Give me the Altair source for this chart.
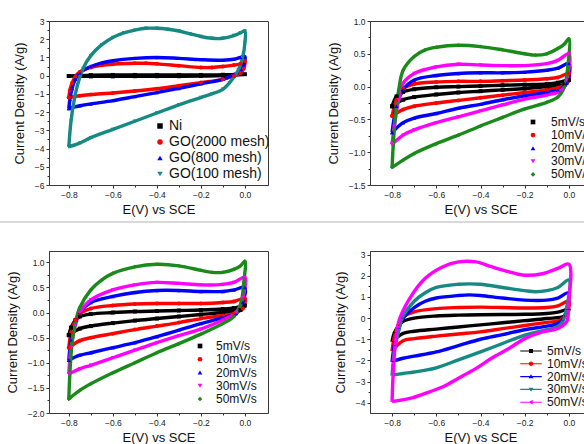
import altair as alt
import pandas as pd

FONT = "Liberation Sans"
X_TICKS = [-0.8, -0.6, -0.4, -0.2, 0.0]
X_MINOR = [-0.7, -0.5, -0.3, -0.1]

# ---------------- Panel 1 data (loops: anodic branch then cathodic branch)
P1_NAMES = ["Ni", "GO(2000 mesh)", "GO(800 mesh)", "GO(100 mesh)"]
P1_COLORS = ["#000000", "#ff0000", "#0000ff", "#168a82"]
P1_SHAPES = ["square", "circle", "triangle-up", "triangle-down"]
P1_Y_TICKS = [-6, -5, -4, -3, -2, -1, 0, 1, 2, 3]
P1_Y_MINOR = [-5.5, -4.5, -3.5, -2.5, -1.5, -0.5, 0.5, 1.5, 2.5]
P1_NI = [(-0.8, -0.02), (-0.7, 0.03), (-0.6, 0.04), (-0.5, 0.04), (-0.4, 0.04), (-0.3, 0.04),
         (-0.2, 0.04), (-0.1, 0.05), (0.0, 0.08), (-0.1, 0.0), (-0.2, -0.02), (-0.3, -0.03),
         (-0.4, -0.03), (-0.5, -0.03), (-0.6, -0.04), (-0.7, -0.04), (-0.8, -0.02)]
P1_GO2000 = [(-0.8, -1.2), (-0.795, -0.8), (-0.785, -0.4), (-0.77, -0.05), (-0.75, 0.2), (-0.7, 0.45),
             (-0.65, 0.57), (-0.6, 0.63), (-0.5, 0.68), (-0.45, 0.68), (-0.4, 0.65), (-0.3, 0.55),
             (-0.2, 0.45), (-0.15, 0.45), (-0.1, 0.5), (-0.05, 0.58), (-0.02, 0.65), (0.0, 0.8),
             (-0.005, 0.4), (-0.02, 0.15), (-0.05, -0.02), (-0.1, -0.2), (-0.2, -0.38), (-0.3, -0.55),
             (-0.4, -0.72), (-0.5, -0.84), (-0.6, -0.95), (-0.7, -1.04), (-0.75, -1.1), (-0.8, -1.2)]
P1_GO800 = [(-0.8, -1.8), (-0.795, -1.3), (-0.785, -0.7), (-0.77, -0.2), (-0.75, 0.15), (-0.7, 0.5),
            (-0.65, 0.7), (-0.6, 0.82), (-0.5, 0.95), (-0.4, 1.0), (-0.3, 0.95), (-0.2, 0.88),
            (-0.1, 0.85), (-0.05, 0.9), (-0.02, 1.0), (0.0, 1.05), (-0.005, 0.6), (-0.02, 0.25),
            (-0.05, 0.05), (-0.1, -0.2), (-0.2, -0.45), (-0.3, -0.7), (-0.4, -0.93), (-0.5, -1.15),
            (-0.6, -1.37), (-0.7, -1.55), (-0.75, -1.65), (-0.8, -1.8)]
P1_GO100 = [(-0.8, -3.9), (-0.79, -2.5), (-0.775, -1.3), (-0.76, -0.5), (-0.735, 0.4), (-0.7, 1.1),
            (-0.65, 1.7), (-0.6, 2.1), (-0.55, 2.35), (-0.5, 2.5), (-0.45, 2.6), (-0.4, 2.6),
            (-0.35, 2.55), (-0.3, 2.45), (-0.25, 2.3), (-0.2, 2.15), (-0.15, 2.05), (-0.1, 2.05),
            (-0.05, 2.2), (-0.02, 2.35), (0.0, 2.45), (0.0, 1.8), (-0.01, 1.0), (-0.03, 0.3),
            (-0.07, -0.4), (-0.1, -0.75), (-0.15, -1.0), (-0.2, -1.2), (-0.3, -1.6), (-0.4, -2.05),
            (-0.5, -2.5), (-0.6, -2.95), (-0.7, -3.4), (-0.75, -3.7), (-0.8, -3.9)]

# ---------------- Panel 2
P2_NAMES = ["5mV/s", "10mV/s", "20mV/s", "30mV/s", "50mV/s"]
P2_COLORS = ["#000000", "#ff0000", "#0000ff", "#ff00ff", "#1a8a1a"]
P2_SHAPES = ["square", "circle", "triangle-up", "triangle-down", "diamond"]
P2_Y_TICKS = [-1.5, -1.0, -0.5, 0.0, 0.5, 1.0]
P2_Y_MINOR = [-1.25, -0.75, -0.25, 0.25, 0.75]
P2_5 = [(-0.8, -0.3), (-0.78, -0.15), (-0.75, -0.08), (-0.7, -0.04), (-0.6, -0.01), (-0.5, 0.0),
        (-0.4, 0.01), (-0.3, 0.02), (-0.2, 0.03), (-0.1, 0.04), (-0.05, 0.06), (0.0, 0.1),
        (-0.02, 0.03), (-0.1, 0.0), (-0.2, -0.03), (-0.3, -0.05), (-0.4, -0.07), (-0.5, -0.09),
        (-0.6, -0.12), (-0.7, -0.16), (-0.75, -0.2), (-0.8, -0.3)]
P2_10 = [(-0.8, -0.45), (-0.78, -0.2), (-0.75, -0.03), (-0.7, 0.04), (-0.6, 0.07), (-0.5, 0.08),
         (-0.4, 0.08), (-0.3, 0.09), (-0.2, 0.1), (-0.1, 0.12), (-0.05, 0.14), (0.0, 0.2),
         (-0.01, 0.05), (-0.05, -0.02), (-0.1, -0.05), (-0.2, -0.09), (-0.3, -0.13), (-0.4, -0.17),
         (-0.5, -0.21), (-0.6, -0.25), (-0.7, -0.3), (-0.75, -0.35), (-0.8, -0.45)]
P2_20 = [(-0.8, -0.7), (-0.78, -0.3), (-0.75, -0.05), (-0.7, 0.1), (-0.6, 0.17), (-0.5, 0.2),
         (-0.4, 0.21), (-0.3, 0.21), (-0.2, 0.22), (-0.1, 0.25), (-0.05, 0.28), (0.0, 0.35),
         (-0.01, 0.05), (-0.05, -0.05), (-0.1, -0.09), (-0.2, -0.14), (-0.3, -0.2), (-0.4, -0.27),
         (-0.5, -0.33), (-0.6, -0.41), (-0.7, -0.48), (-0.75, -0.55), (-0.8, -0.7)]
P2_30 = [(-0.8, -0.88), (-0.79, -0.6), (-0.77, -0.2), (-0.75, 0.05), (-0.7, 0.2), (-0.6, 0.3),
         (-0.5, 0.34), (-0.4, 0.33), (-0.3, 0.32), (-0.2, 0.32), (-0.1, 0.35), (-0.05, 0.4),
         (0.0, 0.5), (-0.01, 0.1), (-0.03, -0.05), (-0.1, -0.13), (-0.2, -0.19), (-0.3, -0.28),
         (-0.4, -0.37), (-0.5, -0.46), (-0.6, -0.55), (-0.7, -0.66), (-0.75, -0.74), (-0.8, -0.88)]
P2_50 = [(-0.8, -1.23), (-0.795, -0.9), (-0.785, -0.45), (-0.77, -0.05), (-0.75, 0.25), (-0.7, 0.46),
         (-0.65, 0.56), (-0.6, 0.6), (-0.5, 0.63), (-0.4, 0.61), (-0.3, 0.56), (-0.2, 0.5),
         (-0.15, 0.48), (-0.1, 0.5), (-0.05, 0.58), (-0.02, 0.65), (0.0, 0.73), (-0.005, 0.3),
         (-0.02, 0.0), (-0.05, -0.16), (-0.1, -0.24), (-0.2, -0.34), (-0.3, -0.47), (-0.4, -0.6),
         (-0.5, -0.74), (-0.6, -0.87), (-0.7, -1.02), (-0.75, -1.12), (-0.8, -1.23)]

# ---------------- Panel 3
P3_NAMES = ["5mV/s", "10mV/s", "20mV/s", "30mV/s", "50mV/s"]
P3_COLORS = ["#000000", "#ff0000", "#0000ff", "#ff00ff", "#1a8a1a"]
P3_SHAPES = ["square", "circle", "triangle-up", "triangle-down", "diamond"]
P3_Y_TICKS = [-2.0, -1.5, -1.0, -0.5, 0.0, 0.5, 1.0]
P3_Y_MINOR = [-1.75, -1.25, -0.75, -0.25, 0.25, 0.75]
P3_5 = [(-0.8, -0.45), (-0.79, -0.3), (-0.77, -0.15), (-0.75, -0.08), (-0.7, -0.03), (-0.6, 0.0),
        (-0.5, 0.02), (-0.4, 0.03), (-0.3, 0.04), (-0.2, 0.05), (-0.1, 0.07), (-0.05, 0.09),
        (0.0, 0.14), (-0.02, 0.05), (-0.1, 0.0), (-0.2, -0.04), (-0.3, -0.08), (-0.4, -0.12),
        (-0.5, -0.16), (-0.6, -0.21), (-0.7, -0.27), (-0.75, -0.32), (-0.8, -0.45)]
P3_10 = [(-0.8, -0.7), (-0.79, -0.4), (-0.77, -0.15), (-0.75, -0.02), (-0.7, 0.08), (-0.6, 0.14),
         (-0.5, 0.17), (-0.4, 0.18), (-0.3, 0.18), (-0.2, 0.18), (-0.1, 0.2), (-0.05, 0.22),
         (0.0, 0.28), (-0.01, 0.08), (-0.05, -0.02), (-0.1, -0.06), (-0.2, -0.12), (-0.3, -0.2),
         (-0.4, -0.27), (-0.5, -0.34), (-0.6, -0.42), (-0.7, -0.5), (-0.75, -0.56), (-0.8, -0.7)]
P3_20 = [(-0.8, -0.95), (-0.79, -0.55), (-0.77, -0.2), (-0.75, 0.0), (-0.7, 0.2), (-0.6, 0.32),
         (-0.5, 0.4), (-0.4, 0.44), (-0.3, 0.44), (-0.2, 0.42), (-0.1, 0.42), (-0.05, 0.45),
         (0.0, 0.5), (-0.01, 0.2), (-0.04, -0.02), (-0.1, -0.1), (-0.2, -0.22), (-0.3, -0.35),
         (-0.4, -0.48), (-0.5, -0.6), (-0.6, -0.7), (-0.7, -0.8), (-0.75, -0.85), (-0.8, -0.95)]
P3_30 = [(-0.8, -1.22), (-0.79, -0.7), (-0.77, -0.25), (-0.75, 0.0), (-0.7, 0.25), (-0.6, 0.45),
         (-0.5, 0.55), (-0.4, 0.6), (-0.3, 0.58), (-0.2, 0.55), (-0.1, 0.56), (-0.05, 0.6),
         (0.0, 0.7), (-0.01, 0.3), (-0.04, 0.0), (-0.1, -0.15), (-0.2, -0.33), (-0.3, -0.46),
         (-0.4, -0.6), (-0.5, -0.75), (-0.6, -0.9), (-0.7, -1.05), (-0.75, -1.12), (-0.8, -1.22)]
P3_50 = [(-0.8, -1.72), (-0.795, -1.2), (-0.785, -0.6), (-0.77, -0.2), (-0.75, 0.1), (-0.7, 0.45),
         (-0.65, 0.65), (-0.6, 0.78), (-0.5, 0.91), (-0.4, 0.96), (-0.3, 0.93), (-0.2, 0.84),
         (-0.15, 0.8), (-0.1, 0.8), (-0.05, 0.86), (-0.02, 0.93), (0.0, 1.02), (-0.005, 0.6),
         (-0.02, 0.15), (-0.05, -0.08), (-0.1, -0.22), (-0.2, -0.43), (-0.3, -0.62), (-0.4, -0.8),
         (-0.5, -1.0), (-0.6, -1.2), (-0.7, -1.42), (-0.75, -1.55), (-0.8, -1.72)]

# ---------------- Panel 4 (legend symbols: marker with a short line through it)
P4_NAMES = ["5mV/s", "10mV/s", "20mV/s", "30mV/s", "50mV/s"]
P4_COLORS = ["#000000", "#ff0000", "#0000ff", "#168a82", "#ff00ff"]
LINE = "M-4.3,-0.22L4.3,-0.22L4.3,0.22L-4.3,0.22Z"
P4_SHAPES = [LINE + "M-0.8,-0.8L0.8,-0.8L0.8,0.8L-0.8,0.8Z",
             LINE + "M-0.9,0A0.9,0.9 0 1,1 0.9,0A0.9,0.9 0 1,1 -0.9,0Z",
             LINE + "M0,-0.95L0.95,0.7L-0.95,0.7Z",
             LINE + "M-0.95,-0.7L0.95,-0.7L0,0.95Z",
             LINE + "M-0.95,0L0.7,-0.95L0.7,0.95Z"]
P4_Y_TICKS = [-4, -3, -2, -1, 0, 1, 2, 3]
P4_Y_MINOR = [-4.5, -3.5, -2.5, -1.5, -0.5, 0.5, 1.5, 2.5]
P4_5 = [(-0.8, -1.1), (-0.79, -0.7), (-0.77, -0.35), (-0.75, -0.15), (-0.7, 0.0), (-0.6, 0.1),
        (-0.5, 0.14), (-0.4, 0.16), (-0.3, 0.17), (-0.2, 0.18), (-0.1, 0.22), (-0.05, 0.28),
        (0.0, 0.42), (-0.02, 0.1), (-0.1, -0.02), (-0.2, -0.12), (-0.3, -0.22), (-0.4, -0.32),
        (-0.5, -0.42), (-0.6, -0.52), (-0.7, -0.62), (-0.75, -0.72), (-0.8, -1.1)]
P4_10 = [(-0.8, -1.55), (-0.79, -0.9), (-0.77, -0.3), (-0.75, 0.05), (-0.7, 0.3), (-0.6, 0.45),
         (-0.5, 0.5), (-0.4, 0.52), (-0.3, 0.5), (-0.2, 0.48), (-0.1, 0.5), (-0.05, 0.58),
         (0.0, 0.8), (-0.01, 0.2), (-0.04, -0.1), (-0.1, -0.2), (-0.2, -0.35), (-0.3, -0.5),
         (-0.4, -0.65), (-0.5, -0.75), (-0.6, -0.85), (-0.7, -0.97), (-0.75, -1.07), (-0.8, -1.55)]
P4_20 = [(-0.8, -2.05), (-0.79, -1.3), (-0.77, -0.5), (-0.75, 0.0), (-0.7, 0.5), (-0.65, 0.8),
         (-0.6, 0.95), (-0.5, 1.07), (-0.45, 1.1), (-0.4, 1.07), (-0.3, 0.95), (-0.2, 0.85),
         (-0.1, 0.85), (-0.05, 0.95), (0.0, 1.2), (-0.01, 0.4), (-0.03, -0.1), (-0.06, -0.3),
         (-0.1, -0.38), (-0.2, -0.55), (-0.3, -0.78), (-0.4, -1.0), (-0.5, -1.3), (-0.6, -1.6),
         (-0.7, -1.8), (-0.75, -1.9), (-0.8, -2.05)]
P4_30 = [(-0.8, -2.7), (-0.79, -1.6), (-0.77, -0.6), (-0.75, 0.1), (-0.7, 0.8), (-0.65, 1.2),
         (-0.6, 1.45), (-0.5, 1.6), (-0.45, 1.62), (-0.4, 1.6), (-0.3, 1.45), (-0.2, 1.3),
         (-0.15, 1.25), (-0.1, 1.3), (-0.05, 1.45), (0.0, 1.8), (-0.01, 0.5), (-0.03, -0.2),
         (-0.06, -0.45), (-0.1, -0.55), (-0.2, -0.8), (-0.3, -1.2), (-0.4, -1.6), (-0.5, -1.98),
         (-0.6, -2.35), (-0.7, -2.55), (-0.75, -2.62), (-0.8, -2.7)]
P4_50 = [(-0.8, -3.95), (-0.79, -1.75), (-0.77, -0.17), (-0.72, 0.93), (-0.65, 1.88), (-0.57, 2.43),
         (-0.5, 2.66), (-0.42, 2.66), (-0.35, 2.43), (-0.27, 2.19), (-0.2, 2.03), (-0.12, 2.1),
         (-0.05, 2.35), (0.0, 2.55), (-0.002, 0.6), (-0.01, -0.17), (-0.05, -0.49), (-0.12, -0.65),
         (-0.2, -0.97), (-0.27, -1.43), (-0.35, -1.9), (-0.42, -2.38), (-0.5, -2.85), (-0.57, -3.25),
         (-0.65, -3.56), (-0.72, -3.8), (-0.8, -3.95)]


def build(names, curves):
    rows = []
    for name, pts in zip(names, curves):
        for k, (e, j) in enumerate(pts):
            rows.append({"s": name, "E": e, "J": j, "k": k})
    return pd.DataFrame(rows)


def panel(df, names, colors, shapes, xdom, ydom, yvals, yminor, yfmt, w, h, leg, ptsize=16, sep=False):
    lx, ly, lfont, loff, lrow, lsym = leg
    x = alt.X("E:Q", scale=alt.Scale(domain=xdom, nice=False, zero=False),
              axis=alt.Axis(values=X_TICKS, format=".1f", title="E(V) vs SCE", orient="bottom"))
    y = alt.Y("J:Q", scale=alt.Scale(domain=ydom, nice=False, zero=False),
              axis=alt.Axis(values=yvals, format=yfmt, title="Current Density (A/g)", orient="left"))
    legend = alt.Legend(orient="none", legendX=lx, legendY=ly, title=None, labelFont=FONT,
                        labelFontSize=lfont, labelColor="#111", labelOffset=loff,
                        rowPadding=lrow, padding=0, symbolSize=lsym, labelLimit=300,
                        symbolType="square", symbolStrokeWidth=0)
    main = alt.Chart(df).mark_line(
        strokeWidth=3.4, interpolate="catmull-rom",
        point=alt.OverlayMarkDef(filled=True, size=ptsize)
    ).encode(
        x=x, y=y,
        color=alt.Color("s:N", scale=alt.Scale(domain=names, range=colors), legend=legend, sort=names),
        shape=alt.Shape("s:N", scale=alt.Scale(domain=names, range=shapes), legend=legend, sort=names),
        order="k:Q")
    minor = alt.Chart(df).mark_point(opacity=0, size=1).encode(
        x=alt.X("E:Q", axis=alt.Axis(values=X_MINOR, orient="bottom", labels=False, title=None,
                                     tickSize=2, domain=False)),
        y=alt.Y("J:Q", axis=alt.Axis(values=yminor, orient="left", labels=False, title=None,
                                     tickSize=2, domain=False)))
    layers = [main, minor]
    if sep:
        layers.append(alt.Chart(df).mark_rule(color="#d9d9d9", strokeWidth=1).encode(
            x=alt.value(-49), x2=alt.value(540), y=alt.value(-29)))
    return alt.layer(*layers).resolve_axis(x="independent", y="independent").properties(width=w, height=h)


p1 = panel(build(P1_NAMES, [P1_NI, P1_GO2000, P1_GO800, P1_GO100]), P1_NAMES, P1_COLORS, P1_SHAPES,
           [-0.89, 0.105], [-6, 3], P1_Y_TICKS, P1_Y_MINOR, "d", 219, 164,
           (104, 98, 14, 2, 2, 30))
p2 = panel(build(P2_NAMES, [P2_5, P2_10, P2_20, P2_30, P2_50]), P2_NAMES, P2_COLORS, P2_SHAPES,
           [-0.9, 0.1], [-1.5, 1.0], P2_Y_TICKS, P2_Y_MINOR, ".1f", 221, 164,
           (157, 95, 12, 12, 1.1, 22))
p3 = panel(build(P3_NAMES, [P3_5, P3_10, P3_20, P3_30, P3_50]), P3_NAMES, P3_COLORS, P3_SHAPES,
           [-0.89, 0.105], [-2.0, 1.225], P3_Y_TICKS, P3_Y_MINOR, ".1f", 219, 162,
           (145, 89, 12, 10, 1.25, 22), sep=True)
p4 = panel(build(P4_NAMES, [P4_5, P4_10, P4_20, P4_30, P4_50]), P4_NAMES, P4_COLORS, P4_SHAPES,
           [-0.9, 0.1], [-4.49, 3.175], P4_Y_TICKS, P4_Y_MINOR, "d", 221, 162,
           (155, 94, 12, 10, 0.8, 25), ptsize=1)

chart = alt.concat(p1, p2, p3, p4, columns=2, spacing={"row": 66, "column": 102},
                   bounds="flush").resolve_scale(
    color="independent", shape="independent"
).resolve_legend(
    color="independent", shape="independent"
).properties(
    autosize=alt.AutoSizeParams(type="none"),
    padding={"left": 49, "top": 21, "right": 535, "bottom": 423},
).configure(font=FONT, background="white").configure_view(
    stroke="#3a3a3a", strokeWidth=1
).configure_axis(
    labelFont=FONT, labelFontSize=8.5, labelColor="#222", titleFont=FONT, titleFontSize=13,
    titleFontWeight="normal", titleColor="#111", grid=False, tickSize=3, tickColor="#333",
    domainColor="#3a3a3a", labelPadding=2
).configure_axisX(titlePadding=5).configure_axisY(titlePadding=8)

chart.save("out.html", embed_options={"renderer": "svg", "actions": False})
